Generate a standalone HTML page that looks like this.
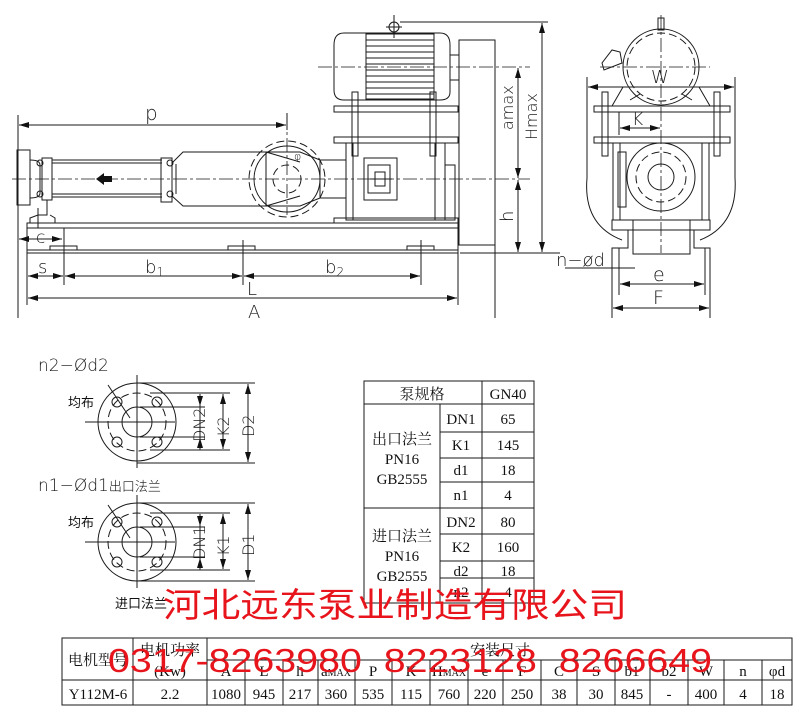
<!DOCTYPE html>
<html><head><meta charset="utf-8"><style>
body{margin:0;background:#fff;}
svg{display:block}
.l{stroke:#1a1a1a;stroke-width:1;fill:none}
.d{stroke:#1a1a1a;stroke-width:1;fill:none;stroke-dasharray:8 4}
.c{stroke:#1a1a1a;stroke-width:0.8;fill:none;stroke-dasharray:14 3 3 3}
.t{font-family:"DejaVu Sans","Liberation Sans",sans-serif;fill:#1a1a1a;font-weight:200}
.s{font-family:"Liberation Serif","Noto Serif CJK SC",serif;fill:#111;font-size:15px}
.cj{font-family:"Liberation Serif","Noto Sans CJK SC",sans-serif;fill:#111;font-size:13px}
.r{font-family:"Liberation Sans","Noto Sans CJK SC",sans-serif;fill:#e8141c}
</style></head><body>
<svg width="800" height="711" viewBox="0 0 800 711" xmlns="http://www.w3.org/2000/svg">
<defs>
<marker id="a" markerWidth="10" markerHeight="6" refX="10" refY="3" orient="auto-start-reverse" markerUnits="userSpaceOnUse"><path d="M0,0 L10,3 L0,6z" fill="#111"/></marker>
</defs>
<line class="c" x1="12" y1="179" x2="530" y2="179"/>
<rect class="l" x="17" y="150" width="13" height="55"/>
<path class="l" d="M30,160 Q40,160 40,165 L40,193 Q40,198 30,198"/>
<rect class="l" x="42" y="158" width="10" height="42"/>
<circle class="l" cx="40" cy="163" r="3"/><circle class="l" cx="40" cy="194" r="3"/>
<line class="l" x1="52" y1="160" x2="162" y2="160"/><line class="l" x1="52" y1="163" x2="162" y2="163"/>
<line class="l" x1="52" y1="194" x2="162" y2="194"/><line class="l" x1="52" y1="197" x2="162" y2="197"/>
<rect class="l" x="161" y="158" width="11" height="44"/>
<circle class="l" cx="170" cy="163" r="3"/><circle class="l" cx="170" cy="194" r="3"/>
<path class="l" d="M172,163 L183,152 L266,152 L266,206 L183,206 L172,196"/>
<line class="l" x1="176" y1="164" x2="176" y2="194"/>
<path d="M96,179 L104,173 L104,176 L112,176 L112,182 L104,182 L104,185z" fill="#111"/>
<path class="l" d="M47,200 L47,215 L38,215 L30,218 L30,223 L55,223 L55,218 L50,215"/>
<line class="l" x1="38" y1="208" x2="38" y2="228"/>
<circle class="d" cx="287" cy="179" r="38"/>
<circle class="l" cx="287" cy="179" r="33"/>
<circle class="d" cx="287" cy="179" r="14"/>
<line class="c" x1="287" y1="115" x2="287" y2="215"/>
<path class="l" d="M266,152 L300,152 L320,160 L320,198 L300,206 L266,206"/>
<line class="l" x1="266" y1="152" x2="300" y2="162"/><line class="l" x1="266" y1="206" x2="300" y2="196"/>
<text class="t" x="294" y="160" font-size="11">φ</text>
<line class="l" x1="320" y1="160" x2="346" y2="160"/><line class="l" x1="320" y1="198" x2="346" y2="198"/>
<rect class="l" x="346" y="143" width="99" height="77"/>
<line class="l" x1="353" y1="143" x2="353" y2="220"/><line class="l" x1="435" y1="143" x2="435" y2="220"/>
<rect class="l" x="364" y="158" width="33" height="42"/>
<rect class="l" x="368" y="165" width="22" height="28"/>
<line class="l" x1="370" y1="179" x2="392" y2="179"/><rect class="l" x="375" y="172" width="10" height="14"/>
<rect class="l" x="334" y="218" width="124" height="5"/>
<rect class="l" x="445" y="165" width="10" height="55"/>
<rect class="l" x="334" y="106" width="124" height="6"/>
<rect class="l" x="334" y="137" width="124" height="6"/>
<rect class="l" x="352" y="92" width="6" height="64"/><rect class="l" x="430" y="92" width="6" height="64"/>
<path class="l" d="M344,33 L440,33 Q450,33 450,45 L450,92 Q450,100 440,100 L344,100 Q334,100 334,90 L334,45 Q334,33 344,33z"/>
<rect class="l" x="366" y="34" width="68" height="65"/>
<g class="l">
<line x1="366" y1="40" x2="434" y2="40"/><line x1="366" y1="46" x2="434" y2="46"/><line x1="366" y1="52" x2="434" y2="52"/><line x1="366" y1="58" x2="434" y2="58"/><line x1="366" y1="64" x2="434" y2="64"/><line x1="366" y1="70" x2="434" y2="70"/><line x1="366" y1="76" x2="434" y2="76"/><line x1="366" y1="82" x2="434" y2="82"/><line x1="366" y1="88" x2="434" y2="88"/><line x1="366" y1="94" x2="434" y2="94"/>
</g>
<circle class="l" cx="394" cy="27" r="5"/><line class="l" x1="394" y1="15" x2="394" y2="38"/><line class="l" x1="386" y1="27" x2="402" y2="27"/>
<rect class="l" x="450" y="55" width="9" height="25"/>
<rect class="l" x="459" y="40" width="36" height="205"/>
<line class="c" x1="318" y1="67" x2="530" y2="67"/>
<rect class="l" x="27" y="223" width="431" height="30"/>
<line class="l" x1="27" y1="228" x2="458" y2="228"/>
<line class="l" x1="27" y1="250" x2="458" y2="250"/>
<rect class="l" x="50" y="246" width="27" height="4"/><rect class="l" x="228" y="246" width="27" height="4"/><rect class="l" x="407" y="246" width="27" height="4"/>
<line class="l" x1="18" y1="115" x2="18" y2="318"/>
<line class="l" x1="287" y1="113" x2="287" y2="130"/>
<line class="l" x1="19" y1="125" x2="286" y2="125" marker-start="url(#a)" marker-end="url(#a)"/>
<text class="t" x="145" y="120" font-size="20">p</text>
<line class="l" x1="19" y1="239" x2="62" y2="239" marker-start="url(#a)" marker-end="url(#a)"/>
<text class="t" x="36" y="243" font-size="17">c</text>
<line class="l" x1="27" y1="253" x2="27" y2="305"/><line class="l" x1="64" y1="228" x2="64" y2="285"/>
<line class="l" x1="243" y1="240" x2="243" y2="285"/><line class="l" x1="421" y1="240" x2="421" y2="285"/>
<line class="l" x1="458" y1="253" x2="458" y2="305"/><line class="l" x1="495" y1="245" x2="495" y2="318"/>
<line class="l" x1="28" y1="276" x2="63" y2="276" marker-start="url(#a)" marker-end="url(#a)"/>
<line class="l" x1="65" y1="276" x2="242" y2="276" marker-start="url(#a)" marker-end="url(#a)"/>
<line class="l" x1="244" y1="276" x2="420" y2="276" marker-start="url(#a)" marker-end="url(#a)"/>
<text class="t" x="38" y="273" font-size="18">s</text>
<text class="t" x="145" y="273" font-size="18">b<tspan font-size="12" dy="3">1</tspan></text>
<text class="t" x="325" y="273" font-size="18">b<tspan font-size="12" dy="3">2</tspan></text>
<text class="t" x="247" y="295" font-size="18">L</text>
<line class="l" x1="28" y1="298" x2="457" y2="298" marker-start="url(#a)" marker-end="url(#a)"/>
<text class="t" x="248" y="318" font-size="18">A</text>
<line class="l" x1="400" y1="22" x2="548" y2="22"/>
<line class="l" x1="460" y1="253" x2="560" y2="253"/>
<line class="l" x1="518" y1="68" x2="518" y2="178" marker-start="url(#a)" marker-end="url(#a)"/>
<line class="l" x1="518" y1="180" x2="518" y2="252" marker-start="url(#a)" marker-end="url(#a)"/>
<line class="l" x1="542" y1="23" x2="542" y2="252" marker-start="url(#a)" marker-end="url(#a)"/>
<text class="t" transform="translate(513,130) rotate(-90)" font-size="16">amax</text>
<text class="t" transform="translate(537,140) rotate(-90)" font-size="16">Hmax</text>
<text class="t" transform="translate(513,222) rotate(-90)" font-size="18">h</text>
<line class="c" x1="661" y1="15" x2="661" y2="253"/>
<line class="c" x1="600" y1="67" x2="710" y2="67"/>
<circle class="l" cx="661" cy="67" r="38"/>
<circle class="d" cx="661" cy="67" r="34"/>
<rect class="l" x="658" y="18" width="6" height="12"/>
<path class="l" d="M604,70 L602,63 L612,50 L620,52 L622,63z"/>
<path class="l" d="M623,87 L612,106 M699,87 L710,106 M630,100 L640,94 M692,100 L682,94"/>
<line class="l" x1="588" y1="87" x2="734" y2="87" marker-start="url(#a)" marker-end="url(#a)"/>
<line class="l" x1="587" y1="77" x2="587" y2="178"/><line class="l" x1="735" y1="77" x2="735" y2="178"/>
<text class="t" x="651" y="83" font-size="18">W</text>
<rect class="l" x="594" y="106" width="136" height="6"/><rect class="l" x="594" y="137" width="136" height="6"/>
<rect class="l" x="602" y="92" width="6" height="64"/><rect class="l" x="714" y="92" width="6" height="64"/>
<line class="l" x1="619" y1="112" x2="619" y2="135"/>
<line class="l" x1="620" y1="128" x2="660" y2="128" marker-start="url(#a)" marker-end="url(#a)"/>
<text class="t" x="632" y="125" font-size="17">K</text>
<path class="l" d="M587,178 Q583,225 622,240 M735,178 Q738,225 700,240"/>
<rect class="l" x="613" y="143" width="96" height="77"/>
<line class="l" x1="620" y1="143" x2="620" y2="220"/><line class="l" x1="702" y1="143" x2="702" y2="220"/>
<rect class="l" x="618" y="152" width="8" height="55"/>
<circle class="l" cx="661" cy="177" r="34"/>
<circle class="d" cx="661" cy="177" r="25"/>
<circle class="l" cx="661" cy="177" r="13"/>
<rect class="l" x="612" y="220" width="98" height="10"/>
<rect class="l" x="633" y="220" width="57" height="34"/>
<path class="l" d="M622,230 L628,230 L628,248 L612,248 L612,318 M700,230 L694,230 L694,248 L710,248 L710,318"/>
<line class="l" x1="619" y1="248" x2="619" y2="295"/><line class="l" x1="705" y1="248" x2="705" y2="295"/>
<line class="l" x1="620" y1="284" x2="704" y2="284" marker-start="url(#a)" marker-end="url(#a)"/>
<text class="t" x="653" y="281" font-size="19">e</text>
<line class="l" x1="613" y1="308" x2="709" y2="308" marker-start="url(#a)" marker-end="url(#a)"/>
<text class="t" x="653" y="304" font-size="19">F</text>
<line class="l" x1="565" y1="268" x2="635" y2="268"/>
<text class="t" x="556" y="266" font-size="18">n−ød</text>
<g>
<circle class="l" cx="137" cy="422" r="39"/><circle class="d" cx="137" cy="422" r="29"/><circle class="l" cx="137" cy="422" r="15"/>
<line class="l" x1="85" y1="422" x2="175" y2="422"/><line class="l" x1="137" y1="375" x2="137" y2="468"/>
<circle class="l" cx="117" cy="402" r="5"/><circle class="l" cx="157" cy="402" r="5"/><circle class="l" cx="117" cy="442" r="5"/><circle class="l" cx="157" cy="442" r="5"/>
<line class="l" x1="108" y1="385" x2="130" y2="418"/>
<g class="l"><line x1="137" y1="383" x2="255" y2="383"/><line x1="150" y1="393" x2="230" y2="393"/><line x1="140" y1="407" x2="205" y2="407"/><line x1="140" y1="437" x2="205" y2="437"/><line x1="150" y1="450" x2="230" y2="450"/><line x1="137" y1="463" x2="255" y2="463"/></g>
<line class="l" x1="200" y1="394" x2="200" y2="406" marker-end="url(#a)"/><line class="l" x1="200" y1="450" x2="200" y2="438" marker-end="url(#a)"/>
<line class="l" x1="200" y1="406" x2="200" y2="438"/>
<line class="l" x1="223" y1="394" x2="223" y2="449" marker-start="url(#a)" marker-end="url(#a)"/>
<line class="l" x1="248" y1="384" x2="248" y2="462" marker-start="url(#a)" marker-end="url(#a)"/>
<text class="t" transform="translate(205,442) rotate(-90)" font-size="16">DN2</text>
<text class="t" transform="translate(229,437) rotate(-90)" font-size="16">K2</text>
<text class="t" transform="translate(254,437) rotate(-90)" font-size="16">D2</text>
</g>
<g>
<circle class="l" cx="137" cy="542" r="39"/><circle class="d" cx="137" cy="542" r="29"/><circle class="l" cx="137" cy="542" r="15"/>
<line class="l" x1="85" y1="542" x2="175" y2="542"/><line class="l" x1="137" y1="495" x2="137" y2="588"/>
<circle class="l" cx="117" cy="522" r="5"/><circle class="l" cx="157" cy="522" r="5"/><circle class="l" cx="117" cy="562" r="5"/><circle class="l" cx="157" cy="562" r="5"/>
<line class="l" x1="108" y1="505" x2="130" y2="538"/>
<g class="l"><line x1="137" y1="503" x2="255" y2="503"/><line x1="150" y1="513" x2="230" y2="513"/><line x1="140" y1="527" x2="205" y2="527"/><line x1="140" y1="557" x2="205" y2="557"/><line x1="150" y1="570" x2="230" y2="570"/><line x1="137" y1="581" x2="255" y2="581"/></g>
<line class="l" x1="200" y1="514" x2="200" y2="526" marker-end="url(#a)"/><line class="l" x1="200" y1="570" x2="200" y2="558" marker-end="url(#a)"/>
<line class="l" x1="200" y1="526" x2="200" y2="558"/>
<line class="l" x1="223" y1="514" x2="223" y2="569" marker-start="url(#a)" marker-end="url(#a)"/>
<line class="l" x1="248" y1="504" x2="248" y2="580" marker-start="url(#a)" marker-end="url(#a)"/>
<text class="t" transform="translate(205,560) rotate(-90)" font-size="16">DN1</text>
<text class="t" transform="translate(229,556) rotate(-90)" font-size="16">K1</text>
<text class="t" transform="translate(254,556) rotate(-90)" font-size="16">D1</text>
</g>
<text class="t" x="38" y="371" font-size="17">n2−Ød2</text>
<text class="cj" x="68" y="407" font-size="14">均布</text>
<text class="t" x="38" y="491" font-size="17">n1−Ød1<tspan class="cj" font-size="14">出口法兰</tspan></text>
<text class="cj" x="68" y="527" font-size="14">均布</text>
<text class="cj" x="115" y="608" font-size="14">进口法兰</text>
<g class="l">
<rect x="364" y="381" width="170" height="222"/>
<line x1="364" y1="404" x2="534" y2="404"/><line x1="482" y1="381" x2="482" y2="603"/><line x1="440" y1="404" x2="440" y2="603"/>
<line x1="440" y1="432" x2="534" y2="432"/><line x1="440" y1="458" x2="534" y2="458"/><line x1="440" y1="482" x2="534" y2="482"/>
<line x1="364" y1="508" x2="534" y2="508"/><line x1="440" y1="534" x2="534" y2="534"/><line x1="440" y1="561" x2="534" y2="561"/><line x1="440" y1="578" x2="534" y2="578"/>
</g>
<g class="s" text-anchor="middle">
<text x="422" y="399">泵规格</text><text x="508" y="399">GN40</text>
<text x="402" y="444">出口法兰</text><text x="402" y="464">PN16</text><text x="402" y="484">GB2555</text>
<text x="402" y="541">进口法兰</text><text x="402" y="561">PN16</text><text x="402" y="581">GB2555</text>
<text x="461" y="424">DN1</text><text x="508" y="424">65</text>
<text x="461" y="450">K1</text><text x="508" y="450">145</text>
<text x="461" y="475">d1</text><text x="508" y="475">18</text>
<text x="461" y="500">n1</text><text x="508" y="500">4</text>
<text x="461" y="527">DN2</text><text x="508" y="527">80</text>
<text x="461" y="552">K2</text><text x="508" y="552">160</text>
<text x="461" y="576">d2</text><text x="508" y="576">18</text>
<text x="461" y="597">n2</text><text x="508" y="597">4</text>
</g>
<g class="l">
<rect x="62" y="638" width="730" height="67"/>
<line x1="133" y1="638" x2="133" y2="705"/><line x1="207" y1="638" x2="207" y2="705"/>
<line x1="207" y1="660" x2="792" y2="660"/><line x1="62" y1="680" x2="792" y2="680"/>
<line x1="245" y1="660" x2="245" y2="705"/><line x1="283" y1="660" x2="283" y2="705"/><line x1="318" y1="660" x2="318" y2="705"/><line x1="355" y1="660" x2="355" y2="705"/><line x1="392" y1="660" x2="392" y2="705"/><line x1="430" y1="660" x2="430" y2="705"/><line x1="468" y1="660" x2="468" y2="705"/><line x1="503" y1="660" x2="503" y2="705"/><line x1="541" y1="660" x2="541" y2="705"/><line x1="577" y1="660" x2="577" y2="705"/><line x1="615" y1="660" x2="615" y2="705"/><line x1="650" y1="660" x2="650" y2="705"/><line x1="688" y1="660" x2="688" y2="705"/><line x1="724" y1="660" x2="724" y2="705"/><line x1="762" y1="660" x2="762" y2="705"/>
</g>
<g class="s" text-anchor="middle">
<text x="98" y="665">电机型号</text>
<text x="170" y="655">电机功率</text><text x="170" y="676">(Kw)</text>
<text x="500" y="655">安装尺寸</text>
<text x="226" y="676">A</text><text x="264" y="676">L</text><text x="300" y="676">h</text><text x="336" y="676">a<tspan font-size="10">MAX</tspan></text><text x="373" y="676">P</text><text x="411" y="676">K</text><text x="449" y="676">H<tspan font-size="10">MAX</tspan></text><text x="485" y="676">e</text><text x="522" y="676">F</text><text x="559" y="676">C</text><text x="596" y="676">S</text><text x="632" y="676">b1</text><text x="669" y="676">b2</text><text x="706" y="676">W</text><text x="743" y="676">n</text><text x="777" y="676">φd</text>
<text x="98" y="699">Y112M-6</text><text x="170" y="699">2.2</text>
<text x="226" y="699">1080</text><text x="264" y="699">945</text><text x="300" y="699">217</text><text x="336" y="699">360</text><text x="373" y="699">535</text><text x="411" y="699">115</text><text x="449" y="699">760</text><text x="485" y="699">220</text><text x="522" y="699">250</text><text x="559" y="699">38</text><text x="596" y="699">30</text><text x="632" y="699">845</text><text x="669" y="699">-</text><text x="706" y="699">400</text><text x="743" y="699">4</text><text x="777" y="699">18</text>
</g>
<text class="r" x="163" y="617" font-size="34" textLength="464" lengthAdjust="spacingAndGlyphs">河北远东泵业制造有限公司</text>
<text class="r" x="108" y="672" font-size="33" textLength="604" lengthAdjust="spacingAndGlyphs" font-weight="200" xml:space="preserve">0317-8263980  8223128  8266649</text>
</svg>
</body></html>
